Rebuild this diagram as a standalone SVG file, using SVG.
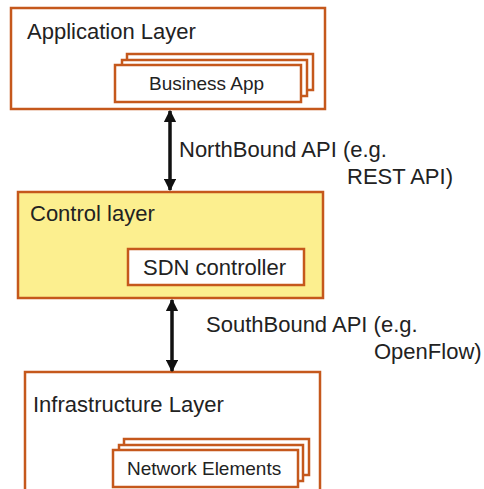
<svg xmlns="http://www.w3.org/2000/svg" width="484" height="489" viewBox="0 0 484 489">
  <style>
    .layer { fill: #ffffff; stroke: #c5581c; stroke-width: 2.5; }
    .ctrl { fill: #fcef8f; stroke: #c5581c; stroke-width: 2.5; }
    .card { fill: #ffffff; stroke: #c5581c; stroke-width: 2.5; }
    .t { font-family: "Liberation Sans", Arial, sans-serif; fill: #222222; }
    .big { font-size: 22px; }
    .small { font-size: 19px; }
    .conn { stroke: #111111; stroke-width: 3.5; fill: none; marker-start: url(#head); marker-end: url(#head); }
  </style>
  <defs>
    <marker id="head" viewBox="0 0 10 10" refX="9" refY="5" markerWidth="3.6" markerHeight="3.6" orient="auto-start-reverse" markerUnits="strokeWidth">
      <path d="M0,0 L10,5 L0,10 Z" fill="#111111"/>
    </marker>
  </defs>

  <g id="application-layer">
    <rect class="layer" x="11" y="8" width="314" height="101"/>
    <text class="t big" x="27" y="39">Application Layer</text>
    <g id="business-app">
      <rect class="card" x="127" y="54" width="186" height="36"/>
      <rect class="card" x="122" y="60" width="185" height="36"/>
      <rect class="card" x="115" y="65" width="186" height="37"/>
      <text class="t small" x="149" y="90">Business App</text>
    </g>
  </g>

  <g id="control-layer">
    <rect class="ctrl" x="18" y="192" width="305" height="106"/>
    <text class="t big" x="30" y="221">Control layer</text>
    <g id="sdn-controller">
      <rect class="card" x="128" y="249" width="176" height="36"/>
      <text class="t big" x="143" y="275">SDN controller</text>
    </g>
  </g>

  <g id="infrastructure-layer">
    <rect class="layer" x="25" y="372" width="295" height="130"/>
    <text class="t big" x="33" y="412">Infrastructure Layer</text>
    <g id="network-elements">
      <rect class="card" x="124" y="439" width="185" height="36"/>
      <rect class="card" x="119" y="445" width="184" height="36"/>
      <rect class="card" x="113" y="450" width="185" height="37"/>
      <text class="t small" x="127" y="475">Network Elements</text>
    </g>
  </g>

  <g id="connectors">
    <line class="conn" x1="170" y1="111" x2="170" y2="190"/>
    <line class="conn" x1="172" y1="300" x2="172" y2="371"/>
    <text class="t big" x="179" y="157">NorthBound API  (e.g.</text>
    <text class="t big" x="347" y="184">REST API)</text>
    <text class="t big" x="206" y="332">SouthBound API (e.g.</text>
    <text class="t big" x="374" y="359">OpenFlow)</text>
  </g>
</svg>
